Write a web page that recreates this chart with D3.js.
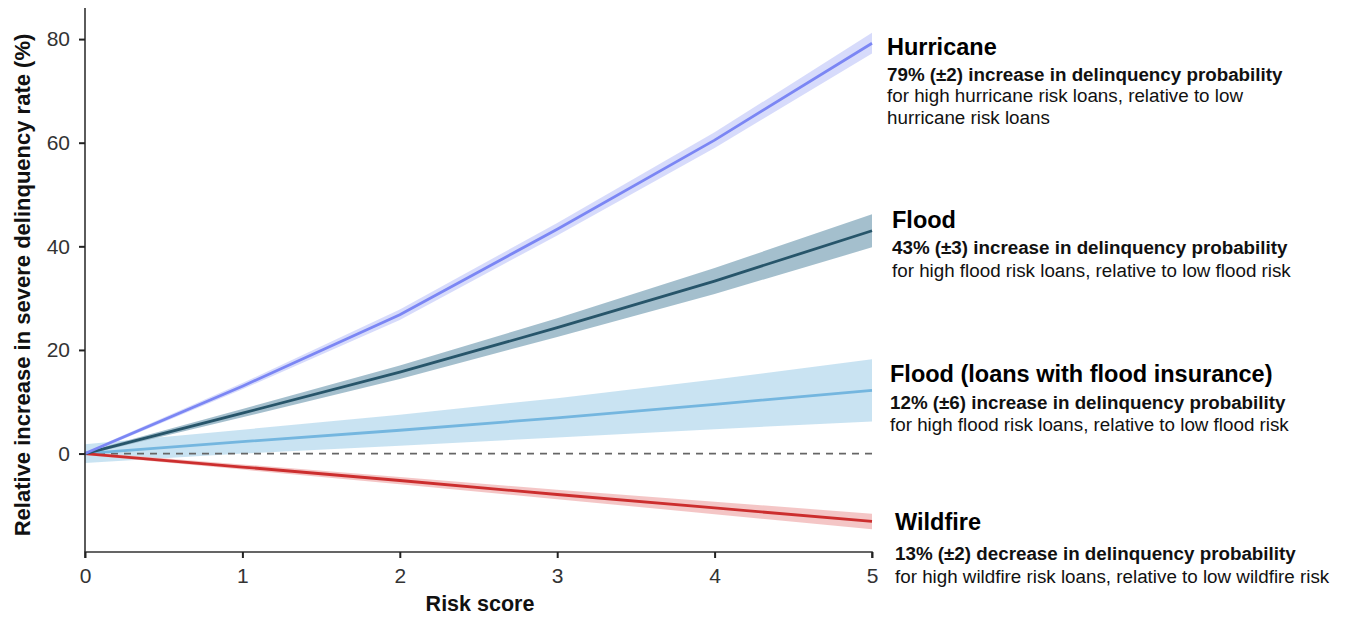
<!DOCTYPE html>
<html>
<head>
<meta charset="utf-8">
<script src="https://cdn.jsdelivr.net/npm/d3@7"></script>
<style>
  html, body { margin: 0; padding: 0; background: #fff; }
  svg { display: block; font-family: "Liberation Sans", Arial, Helvetica, sans-serif; }
</style>
</head>
<body>
<svg id="chart" width="1348" height="617"></svg>
<script>
// ---- Data ----
const riskScores = [0, 1, 2, 3, 4, 5];
const xTicks = [0, 1, 2, 3, 4, 5];
const yTicks = [0, 20, 40, 60, 80];

const hurricaneMean = [0, 13.0, 26.8, 43.3, 60.5, 79.2];
const hurricaneErr  = [0.3, 0.6, 1.0, 1.2, 1.5, 2.0];

const floodMean = [0, 7.8, 15.7, 24.3, 33.3, 43.0];
const floodErr  = [0.3, 0.8, 1.3, 1.8, 2.5, 3.2];

const insuredMean = [0, 2.3, 4.5, 6.9, 9.5, 12.2];
const insuredErr  = [1.8, 2.3, 3.0, 3.8, 4.8, 6.0];

const wildfireMean = [0, -2.6, -5.2, -7.9, -10.5, -13.1];
const wildfireErr  = [0.3, 0.5, 0.7, 0.9, 1.2, 1.5];

const seriesNames = ["Flood (loans with flood insurance)", "Wildfire", "Flood", "Hurricane"];

const annotations = [
  { title: "Hurricane", bold: "79% (±2) increase in delinquency probability",
    lines: ["for high hurricane risk loans, relative to low", "hurricane risk loans"] },
  { title: "Flood", bold: "43% (±3) increase in delinquency probability",
    lines: ["for high flood risk loans, relative to low flood risk"] },
  { title: "Flood (loans with flood insurance)", bold: "12% (±6) increase in delinquency probability",
    lines: ["for high flood risk loans, relative to low flood risk"] },
  { title: "Wildfire", bold: "13% (±2) decrease in delinquency probability",
    lines: ["for high wildfire risk loans, relative to low wildfire risk"] }
];

// ---- Styles / layout ----
const styles = {
  "Hurricane": { line: "#7b86f4", band: "#d3d7fb", width: 2.8 },
  "Flood": { line: "#27556a", band: "#9ab8c8", width: 2.8 },
  "Flood (loans with flood insurance)": { line: "#74b6df", band: "#c3e0f1", width: 2.8 },
  "Wildfire": { line: "#cc2e2e", band: "#f3c0c0", width: 2.8 }
};
const meansByName = {
  "Hurricane": [hurricaneMean, hurricaneErr],
  "Flood": [floodMean, floodErr],
  "Flood (loans with flood insurance)": [insuredMean, insuredErr],
  "Wildfire": [wildfireMean, wildfireErr]
};
// x position and baselines (title, bold line, regular lines...)
const annoLayout = [
  { x: 887, ys: [55, 81, 102, 124] },
  { x: 892, ys: [228, 254, 277] },
  { x: 890, ys: [382, 409, 431] },
  { x: 895, ys: [530, 560, 583] }
];

const svg = d3.select("#chart");
const x = d3.scaleLinear().domain([0, 5]).range([85, 872]);
const y = d3.scaleLinear().domain([-19, 86]).range([552, 8]);

// bands
seriesNames.forEach(name => {
  const [m, e] = meansByName[name];
  const pts = riskScores.map((r, i) => ({ r, m: m[i], e: e[i] }));
  const area = d3.area().x(d => x(d.r)).y0(d => y(d.m - d.e)).y1(d => y(d.m + d.e));
  svg.append("path").attr("d", area(pts)).attr("fill", styles[name].band).attr("opacity", 0.9);
});

// zero reference line
svg.append("line")
  .attr("x1", x(0)).attr("x2", x(5))
  .attr("y1", y(0)).attr("y2", y(0))
  .attr("stroke", "#666").attr("stroke-width", 1.7)
  .attr("stroke-dasharray", "7,6");

// lines
seriesNames.forEach(name => {
  const [m] = meansByName[name];
  const pts = riskScores.map((r, i) => ({ r, m: m[i] }));
  const line = d3.line().x(d => x(d.r)).y(d => y(d.m));
  svg.append("path").attr("d", line(pts)).attr("fill", "none")
    .attr("stroke", styles[name].line).attr("stroke-width", styles[name].width);
});

// axes
const xAxis = d3.axisBottom(x).tickValues(xTicks).tickSize(6).tickPadding(10).tickFormat(d3.format("d"));
const yAxis = d3.axisLeft(y).tickValues(yTicks).tickSize(6).tickPadding(9).tickFormat(d3.format("d"));

const gx = svg.append("g").attr("transform", `translate(0,${y(-19)})`).call(xAxis);
const gy = svg.append("g").attr("transform", `translate(${x(0)},0)`).call(yAxis);
[gx, gy].forEach(g => {
  g.select(".domain").attr("stroke", "#333").attr("stroke-width", 1.6);
  g.selectAll(".tick line").attr("stroke", "#222").attr("stroke-width", 2);
  g.selectAll(".tick text").attr("fill", "#333").style("font-size", "21px")
    .style("font-family", "'Liberation Sans', Arial, sans-serif");
});
gx.select(".domain").attr("d", `M${x(0)},6V0H${x(5)}V6`);
gy.select(".domain").attr("d", `M0,${y(86)}V${y(-19)}`);

// axis titles
svg.append("text")
  .attr("x", 480).attr("y", 611)
  .attr("text-anchor", "middle")
  .style("font-size", "21.5px").style("font-weight", "bold").attr("fill", "#111")
  .text("Risk score");
svg.append("text")
  .attr("transform", "translate(30,285) rotate(-90)")
  .attr("text-anchor", "middle")
  .style("font-size", "22px").style("font-weight", "bold").attr("fill", "#111")
  .text("Relative increase in severe delinquency rate (%)");

// annotations
annotations.forEach((a, i) => {
  const L = annoLayout[i];
  const g = svg.append("g").attr("transform", `translate(${L.x},0)`);
  g.append("text").attr("x", 0).attr("y", L.ys[0])
    .style("font-size", "23.5px").style("font-weight", "bold").attr("fill", "#000").text(a.title);
  g.append("text").attr("x", 0).attr("y", L.ys[1])
    .style("font-size", "18.8px").style("font-weight", "bold").attr("fill", "#111").text(a.bold);
  a.lines.forEach((t, j) => {
    g.append("text").attr("x", 0).attr("y", L.ys[2 + j])
      .style("font-size", "18.8px").attr("fill", "#111").text(t);
  });
});
</script>
</body>
</html>
